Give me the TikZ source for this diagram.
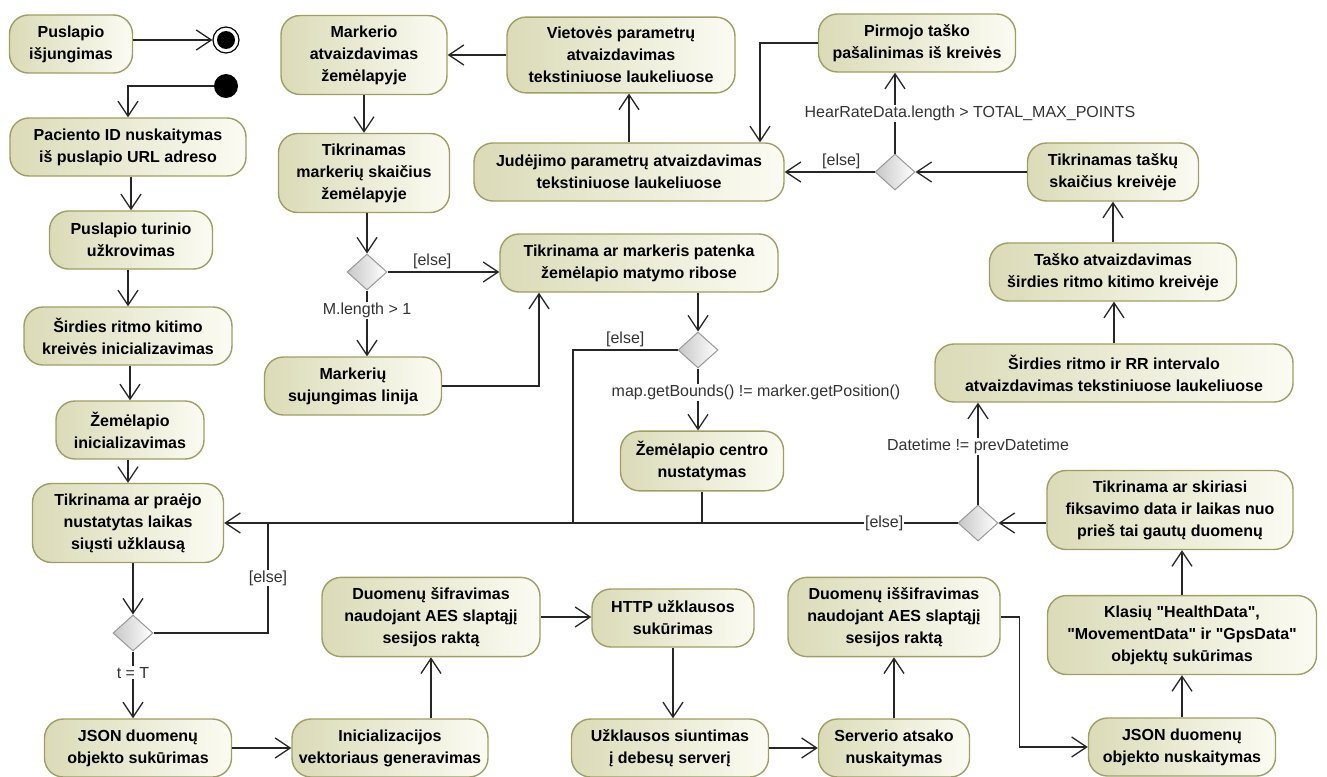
\documentclass[tikz,border=0pt]{standalone}
\usepackage{fontspec}
\setmainfont{Liberation Sans}[Ligatures=TeXOff]
\usetikzlibrary{positioning, arrows.meta, shapes.geometric, calc}

\definecolor{actleft}{RGB}{219,219,184}
\definecolor{actright}{RGB}{251,251,243}
\definecolor{actborder}{RGB}{158,158,102}

\begin{document}
\begin{tikzpicture}[
        x=1pt, y=-1pt,
        >={Straight Barb[length=15pt, width=20pt]},
        act/.style={rounded corners=19pt, draw=actborder, line width=1.4pt,
            left color=actleft, right color=actright, align=center,
            font=\bfseries\fontsize{16}{22}\selectfont, inner xsep=6pt, inner ysep=10pt,
            minimum height=58pt, minimum width=#1},
        decision/.style={diamond, draw=black!40, line width=1pt, left color=black!22,
            right color=white, minimum width=40pt, minimum height=36pt, inner sep=0pt},
        start/.style={circle, fill=black, minimum size=24pt, inner sep=0pt},
        finish/.style={circle, draw=black, line width=1.2pt, minimum size=26pt, inner sep=0pt,
            path picture={\fill (path picture bounding box.center) circle (9pt);}},
        flow/.style={->, line width=1.3pt, draw=black!85},
        line/.style={line width=1.3pt, draw=black!85},
        guard/.style={font=\fontsize{16}{19}\selectfont, text=black!80, fill=white, inner sep=1pt},
    ]
    \useasboundingbox (0,0) rectangle (1327,776);

        % Left column
        \node[act=123pt] (off) at (71,44) {Puslapio\\išjungimas};
        \node[finish] (final) at (226,40) {};
        \node[start] (init) at (226,86) {};
        \node[act=236pt] (pacientas) at (128,147) {Paciento ID nuskaitymas\\iš puslapio URL adreso};
        \node[act=163pt] (turinys) at (131,240) {Puslapio turinio\\užkrovimas};
        \node[act=208pt] (kreive) at (128,336) {Širdies ritmo kitimo\\kreivės inicializavimas};
        \node[act=148pt] (zeminit) at (130,430) {Žemėlapio\\inicializavimas};
        \node[act=191pt] (laikas) at (128,523) {Tikrinama ar praėjo\\nustatytas laikas\\siųsti užklausą};
        \node[decision] (D-1) at (133,633) {};

        % Bottom row
        \node[act=187pt] (jsonsuk) at (138,748) {JSON duomenų\\objekto sukūrimas};
        \node[act=196pt] (vektorius) at (390,748) {Inicializacijos\\vektoriaus generavimas};
        \node[act=218pt] (sifr) at (431,617) {Duomenų šifravimas\\naudojant AES slaptąjį\\sesijos raktą};
        \node[act=162pt] (http) at (673,618) {HTTP užklausos\\sukūrimas};
        \node[act=197pt] (siuntimas) at (670,748) {Užklausos siuntimas\\į debesų serverį};
        \node[act=151pt] (atsakas) at (894,748) {Serverio atsako\\nuskaitymas};
        \node[act=212pt] (issifr) at (894,617) {Duomenų iššifravimas\\naudojant AES slaptąjį\\sesijos raktą};
        \node[act=187pt] (jsonnusk) at (1182,747) {JSON duomenų\\objekto nuskaitymas};

        % Right column
        \node[act=269pt] (klases) at (1182,635) {Klasių "HealthData",\\"MovementData" ir "GpsData"\\objektų sukūrimas};
        \node[act=246pt] (skiriasi) at (1170,510) {Tikrinama ar skiriasi\\fiksavimo data ir laikas nuo\\prieš tai gautų duomenų};
        \node[decision] (D-5) at (978,523) {};
        \node[act=358pt] (rr) at (1114,373) {Širdies ritmo ir RR intervalo\\atvaizdavimas tekstiniuose laukeliuose};
        \node[act=247pt] (taskas) at (1113,272) {Taško atvaizdavimas\\širdies ritmo kitimo kreivėje};
        \node[act=171pt] (tasku) at (1113,172) {Tikrinamas taškų\\skaičius kreivėje};
        \node[decision] (D-4) at (895,172) {};
        \node[act=197pt] (pirmojo) at (917,43) {Pirmojo taško\\pašalinimas iš kreivės};

        % Map part
        \node[act=310pt] (judejimas) at (629,172) {Judėjimo parametrų atvaizdavimas\\tekstiniuose laukeliuose};
        \node[act=228pt] (vietove) at (621,55) {Vietovės parametrų\\atvaizdavimas\\tekstiniuose laukeliuose};
        \node[act=166pt] (markerio) at (364,55) {Markerio\\atvaizdavimas\\žemėlapyje};
        \node[act=171pt] (markeriu) at (364,173) {Tikrinamas\\markerių skaičius\\žemėlapyje};
        \node[decision] (D-2) at (367,272) {};
        \node[act=278pt] (patenka) at (639,263) {Tikrinama ar markeris patenka\\žemėlapio matymo ribose};
        \node[act=177pt] (sujungimas) at (353,386) {Markerių\\sujungimas linija};
        \node[decision] (D-3) at (698,350) {};
        \node[act=163pt] (centras) at (702,461) {Žemėlapio centro\\nustatymas};

        % Straight connections
        \draw[flow] (off.east |- final) -- (final);
        \draw[flow] (init.west) -| (pacientas.north);
        \foreach \a/\b in {pacientas/turinys, turinys/kreive, kreive/zeminit, zeminit/laikas, markerio/markeriu}
            \draw[flow] (\b.north |- \a.south) -- (\b.north);
        \foreach \a/\b in {jsonsuk/vektorius, siuntimas/atsakas, sifr/http}
            \draw[flow] (\a.east) -- (\a.east -| \b.west);
        \foreach \a/\b in {atsakas/issifr, jsonnusk/klases, rr/taskas, taskas/tasku, klases/skiriasi, judejimas/vietove}
            \draw[flow] (\a.north) -- (\a.north |- \b.south);
        \draw[flow] (vietove.west) -- (vietove.west -| markerio.east);

        \draw[flow] (D-1.north |- laikas.south) -- (D-1.north);
        \draw[flow] (D-1.south) -- node[guard, pos=0.32] {t = T} (D-1.south |- jsonsuk.north);
        \draw[line] (D-1.east) -| node[guard, pos=0.75] {[else]} (laikas.east -| 268,0);
        \draw[flow] (sifr.south |- vektorius.north) -- (sifr.south);
        \draw[flow] (http.south) -- (http.south |- siuntimas.north);
        \draw[flow] (issifr.east) -- ++(19,0) |- (jsonnusk.west);

        % Decisions on the right
        \draw[flow] (skiriasi.west |- D-5.east) -- (D-5.east);
        \draw[flow] (D-5.north) -- node[guard, pos=0.57] {Datetime != prevDatetime} (D-5.north |- rr.south);
        \draw[flow] (D-5.west) -- node[guard, pos=0.1] {[else]} (laikas.east);
        \draw[flow] (tasku.west) -- (D-4.east);
        \draw[flow] (D-4.north) -- node[guard, pos=0.5, xshift=75pt] {HearRateData.length > TOTAL\_MAX\_POINTS} (D-4.north |- pirmojo.south);
        \draw[flow] (D-4.west) -- node[guard, above=2pt, pos=0.37, fill=none] {[else]} (judejimas.east);
        \draw[flow] (pirmojo.west) -| ([xshift=131pt]judejimas.north);

        % Decisions on the map
        \draw[flow] (D-2.north |- markeriu.south) -- (D-2.north);
        \draw[flow] (D-2.east) -- node[guard, above=2pt, pos=0.4, fill=none] {[else]} (D-2.east -| patenka.west);
        \draw[flow] (D-2.south) -- node[guard, pos=0.3] {M.length > 1} (D-2.south |- sujungimas.north);
        \draw[flow] (sujungimas.east) -| ([xshift=-100pt]patenka.south);
        \draw[flow] (patenka.south -| D-3.north) -- (D-3.north);
        \draw[flow] (D-3.south) -- node[guard, pos=0.39, xshift=58pt] {map.getBounds() != marker.getPosition()} (D-3.south |- centras.north);
        \draw[line] (D-3.west) -| node[guard, above=2pt, pos=0.25, fill=none] {[else]} (laikas.east -| 573,0);
        \draw[line] (centras.south) -- (centras.south |- laikas.east);
    \end{tikzpicture}
\end{document}
